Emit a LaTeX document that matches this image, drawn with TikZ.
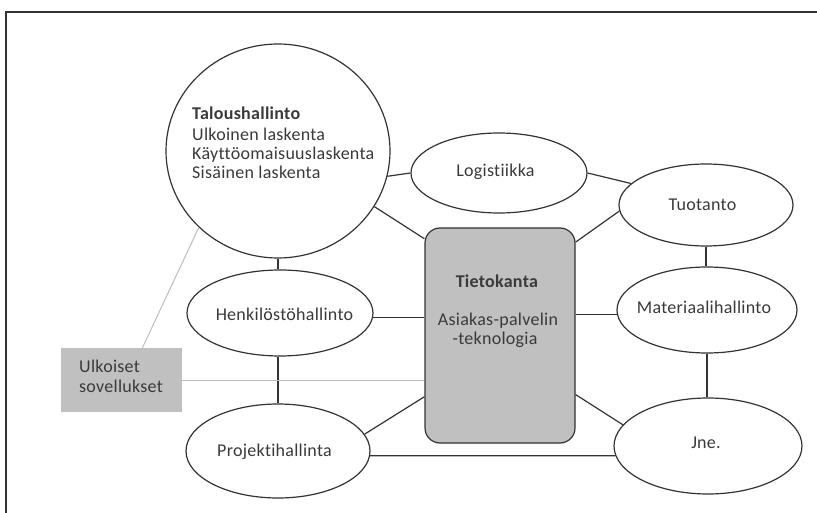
\documentclass[tikz,border=0pt]{standalone}
\usepackage{fontspec}
\setmainfont{Carlito}[Ligatures=NoCommon, LetterSpace=1.5]
\usetikzlibrary{shapes.geometric}
\definecolor{ink}{HTML}{3A3A3A}
\definecolor{edge}{HTML}{333333}
\definecolor{boxfill}{HTML}{C0C0C0}
\definecolor{thin}{HTML}{BDBDBD}

\begin{document}
\begin{tikzpicture}[x=1pt,y=-1pt,
  txt/.style={font=\fontsize{18}{19.5}\selectfont, text=ink, inner sep=0pt,
              execute at begin node={\strut}},
  oval/.style 2 args={draw=edge, line width=1.2pt, ellipse, inner sep=0pt,
                      minimum width=#1pt, minimum height=#2pt},
  link/.style={draw=edge, line width=1.2pt},
  faint/.style={draw=thin, line width=1pt}]

\useasboundingbox (0,0) rectangle (817,513);
\fill[white] (0,0) rectangle (817,513);

% outer frame (top and left edges)
\draw[edge, line width=2pt] (6,514) -- (6,12) -- (818,12);

% shapes
\node[oval={224}{214}] (tal) at (278,151) {};
\node[oval={176}{80}]  (log) at (499,173) {};
\node[oval={174}{82}]  (tuo) at (706,205) {};
\node[oval={180}{86}]  (mat) at (707,310) {};
\node[oval={188}{96}]  (jne) at (708,446) {};
\node[oval={186}{86}]  (hen) at (280,313) {};
\node[oval={184}{94}]  (proj) at (278,451) {};
\node[draw=edge, fill=boxfill, line width=1.2pt, rounded corners=15pt,
      minimum width=150pt, minimum height=215pt, inner sep=0pt] (db) at (500,335.5) {};
\node[fill=boxfill, minimum width=121pt, minimum height=64pt, inner sep=0pt] (ulk) at (121.5,380) {};

% labels
\node[txt, anchor=west] (t1) at (192,116) {\textbf{Taloushallinto}};
\node[txt, anchor=west] (t2) at (192,136.5) {Ulkoinen laskenta};
\node[txt, anchor=west] (t3) at (192,156) {Käyttöomaisuuslaskenta};
\node[txt, anchor=west] (t4) at (192,175) {Sisäinen laskenta};
\node[txt] (tlog) at (495.5,173) {Logistiikka};
\node[txt] (ttuo) at (702.5,207) {Tuotanto};
\node[txt] (tmat) at (704,310) {Materiaalihallinto};
\node[txt] (tjne) at (706,445) {Jne.};
\node[txt] (then) at (284.5,317) {Henkilöstöhallinto};
\node[txt] (tproj) at (274.5,453) {Projektihallinta};
\node[txt] (tdb1) at (497,284) {\textbf{Tietokanta}};
\node[txt] (tdb2) at (498,322) {Asiakas-palvelin};
\node[txt] (tdb3) at (495,341) {-teknologia};
\node[txt, anchor=west] (tulk1) at (79,369) {Ulkoiset};
\node[txt, anchor=west] (tulk2) at (79,389) {sovellukset};

% connectors
\draw[link] (tal.-13.4) -- (log.west);
\draw[link] (tal.-30.4) -- (db.128.2);
\draw[link] (log.east) -- (tuo.164);
\draw[link] (db.51.8) -- (tuo.184);
\draw[link] (tuo.south) -- (tuo.south |- mat.north);
\draw[link] (mat.183) -- (mat.183 -| db.east);
\draw[link] (mat.south) -- (mat.south |- jne.north);
\draw[link] (db.-38.4) -- (jne.166);
\draw[link] (proj.-3) -- (jne.186);
\draw[link] (db.-141.6) -- (proj.11.7);
\draw[link] (hen.-3) -- (hen.-3 -| db.west);
\draw[link] (tal.south) -- (tal.south |- hen.north);
\draw[link] (proj.north) -- (proj.north |- hen.south);
\draw[faint] (tal.-136.4) -- (ulk.57.4);
\draw[faint] (ulk.east) -- (ulk.east -| db.west);
\end{tikzpicture}
\end{document}
